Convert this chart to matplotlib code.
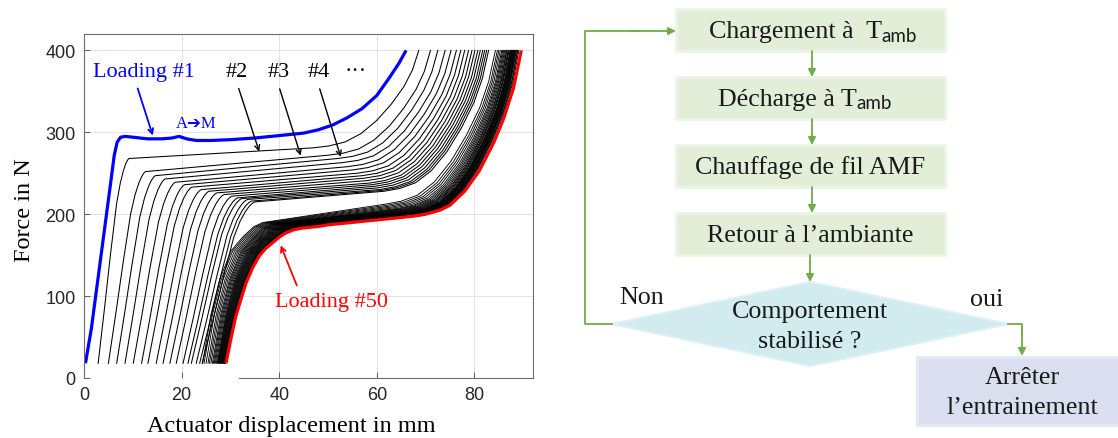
import numpy as np
import matplotlib
matplotlib.use('Agg')
import matplotlib.pyplot as plt
from matplotlib.patches import Rectangle, Polygon, FancyArrowPatch

# ---------------- data ----------------
# Loading #1 (blue)
blue_x = [0.3, 1.5, 2.5, 3.5, 4.5, 5.5, 6.2, 6.8, 7.5, 8.5, 10, 13, 16, 18, 19.5, 21, 23, 26, 30,
          35, 40, 45, 48, 51, 54, 57, 60, 62.5, 64.5, 66]
blue_f = [18, 60, 105, 150, 195, 240, 272, 288, 294, 295, 294, 292, 292, 293, 295, 292, 290, 290, 291,
          293, 296, 299, 303, 309, 318, 329, 345, 366, 384, 400]
# Loading #50 (red)
red_x = [29.1, 30.1, 31.1, 32.2, 33.2, 34.5, 35.9, 37.2, 38.6, 40, 41.3, 43, 44.7, 48, 50, 55, 60, 65, 68,
         70, 73, 75, 78, 81, 84, 86, 88, 89.6]
red_f = [18, 48, 75, 97, 116, 134, 149, 158, 165, 172, 177, 181, 183, 185, 187, 190, 193, 196, 198,
         200, 205, 211, 228, 253, 288, 317, 354, 400]

# Loadings #2..#18 (upper plateau family)
up_start = [2.9, 5.0, 6.7, 8.4, 10.1, 11.8, 13.1, 14.8, 16.2, 17.6, 18.9, 20.3, 21.3, 22.0, 23.0, 23.7, 24.2]
up_knee_x = [9.2, 12.6, 14.6, 16.6, 18.7, 20.6, 22.1, 24.0, 25.6, 27.2, 28.7, 30.3, 31.5, 32.3, 33.5, 34.3, 35.0]
up_knee_f = [268, 252, 247, 243, 239, 236, 233, 230, 228, 226, 224, 222, 220, 219, 218, 216, 215]
up_bend_x = [47, 50, 52, 53, 54, 55, 56, 57, 57.5, 58, 58.5, 59, 59.5, 60, 60.5, 61, 61.5]
up_bend_f = [281, 272, 268, 263, 258, 254, 250, 247, 244, 241, 238, 236, 234, 232, 230, 229, 228]
up_end = [68.6, 71.0, 72.5, 74.0, 75.2, 76.3, 77.2, 78.0, 78.8, 79.5, 80.1, 80.7, 81.2, 81.7, 82.1, 82.5, 82.9]

# Loadings #19..#49 (lower plateau family)
lo_start = [24.3, 24.6, 25.0, 25.4, 25.7, 26.0, 26.3, 26.5, 26.7, 26.9, 27.1, 27.3, 27.4, 27.5, 27.6, 27.7,
            27.8, 27.9, 28.0, 28.1, 28.2, 28.3, 28.4, 28.5, 28.6, 28.7, 28.75, 28.8, 28.85, 28.9, 29.0]
lo_knee_x = [38.0, 38.3, 38.6, 38.9, 39.2, 39.5, 39.8, 40.0, 40.3, 40.5, 40.8, 41.0, 41.3, 41.5, 41.8, 42.0,
             42.2, 42.4, 42.6, 42.8, 43.0, 43.2, 43.4, 43.6, 43.8, 44.0, 44.1, 44.2, 44.3, 44.4, 44.5]
lo_knee_f = [191, 190.6, 190.2, 189.8, 189.4, 189, 188.8, 188.6, 188.4, 188.2, 188, 187.8, 187.6, 187.4, 187.2,
             187, 186.8, 186.6, 186.4, 186.2, 186, 185.8, 185.6, 185.4, 185.2, 185, 184.8, 184.6, 184.4,
             184.2, 184]
lo_bend_x = [61.5, 62.2, 62.8, 63.3, 63.8, 64.2, 64.6, 65.0, 65.3, 65.6, 65.8, 66.0, 66.2, 66.4, 66.6, 66.7,
             66.8, 66.9, 67.0, 67.1, 67.2, 67.3, 67.4, 67.5, 67.6, 67.7, 67.8, 67.9, 68.0, 68.1, 68.2]
lo_bend_f = [212, 211, 210, 209, 208, 207, 206.5, 206, 205.5, 205, 204.5, 204, 203.5, 203, 202.5, 202.5,
             202, 202, 201.5, 201.5, 201, 201, 200.5, 200.5, 200, 200, 200, 199.5, 199.5, 199, 199]
lo_end = [84.3, 84.7, 85.0, 85.3, 85.6, 85.8, 86.0, 86.2, 86.4, 86.6, 86.7, 86.9, 87.0, 87.1, 87.3, 87.4,
          87.5, 87.6, 87.7, 87.8, 87.9, 88.0, 88.1, 88.2, 88.3, 88.4, 88.5, 88.6, 88.8, 88.9, 89.1]

# curve shapes (fractions)
rise_u_upper = [0, .2, .4, .6, .72, .82, .9, .96, 1]
rise_v_upper = [0, .26, .53, .78, .88, .94, .975, .993, 1]
rise_u_lower = [0, .126, .258, .428, .6, .767, .9, 1]
rise_v_lower = [0, .345, .594, .794, .891, .964, .993, 1]
turn_u = [0, .15, .3, .45, .6, .74, .86, .94, 1]
turn_v = [0, .02, .06, .145, .28, .45, .63, .8, 1]
F_START, F_END = 18, 400

x_ticks = [0, 20, 40, 60, 80]
y_ticks = [0, 100, 200, 300, 400]

flow_steps = ['Chargement à  T', 'Décharge à T', 'Chauffage de fil AMF', "Retour à l’ambiante"]
flow_sub = ['amb', 'amb', '', '']

# ---------------- figure ----------------
W, H = 1118, 439
fig = plt.figure(figsize=(W / 100, H / 100), dpi=100)
SERIF = 'Liberation Serif'
FS = 18.7

# flowchart layer in pixel coordinates
fa = fig.add_axes([0, 0, 1, 1])
fa.set_xlim(0, W)
fa.set_ylim(H, 0)
fa.axis('off')

green = '#70AD47'
tcol = '#1a1a1a'
box_l, box_r, box_h = 676, 945, 42
box_tops = [10, 78, 146, 214]
cx = (box_l + box_r) / 2
for i, top in enumerate(box_tops):
    fa.add_patch(Rectangle((box_l, top), box_r - box_l, box_h, facecolor='#E2EED8',
                           edgecolor='#ECF4E6', lw=2.0))
    cy = top + box_h / 2
    if flow_sub[i]:
        tx_end = [882, 857][i]
        fa.text(tx_end, cy + 1, flow_steps[i], ha='right', va='center', fontsize=FS,
                family=SERIF, color=tcol)
        fa.text(tx_end - 0.5, cy + 5, flow_sub[i], ha='left', va='center', fontsize=13.5,
                family=['Lato', 'DejaVu Sans'], color=tcol)
    else:
        fa.text(cx, cy + 1, flow_steps[i], ha='center', va='center', fontsize=FS,
                family=SERIF, color=tcol)


def arrow(p0, p1):
    fa.add_patch(FancyArrowPatch(p0, p1, arrowstyle='-|>', mutation_scale=11,
                                 color=green, lw=1.3, shrinkA=0, shrinkB=0))


for top in box_tops[:-1]:
    arrow((812, top + box_h), (812, top + 68))
arrow((810, box_tops[-1] + box_h), (810, 283))

# decision diamond
dl, dr, dt, db, dcx, dcy = 611.7, 1008.3, 283, 367, 810, 325
fa.add_patch(Polygon([(dl, dcy), (dcx, dt), (dr, dcy), (dcx, db)], closed=True,
                     facecolor='#D2EBEF', edgecolor='#DDF0F3', lw=1.5))
fa.text(810, 312, 'Comportement', ha='center', va='center', fontsize=FS, family=SERIF, color=tcol)
fa.text(810, 342, 'stabilisé ?', ha='center', va='center', fontsize=FS, family=SERIF, color=tcol)

# loop back (Non)
fa.plot([dl, 585.3, 585.3, 640], [dcy, dcy, 32, 32], color=green, lw=1.3)
arrow((630, 32), (676, 32))
fa.text(641.7, 298, 'Non', ha='center', va='center', fontsize=FS, family=SERIF, color=tcol)

# exit (oui)
fa.plot([dr, 1022, 1022], [dcy, dcy, 335], color=green, lw=1.3)
arrow((1022, 330), (1022, 357))
fa.text(986.7, 300, 'oui', ha='center', va='center', fontsize=FS, family=SERIF, color=tcol)

fa.add_patch(Rectangle((917, 357.5), 220, 68.5, facecolor='#D9DFEF', edgecolor='#E4E8F4', lw=2.0))
fa.text(1022, 378, 'Arrêter', ha='center', va='center', fontsize=FS, family=SERIF, color=tcol)
fa.text(1022, 408, 'l’entrainement', ha='center', va='center', fontsize=FS, family=SERIF, color=tcol)

# ---------------- force-displacement plot ----------------
ax = fig.add_axes([84 / W, (H - 379) / H, (533 - 84) / W, (379 - 35) / H])
ax.set_xlim(0, 92)
ax.set_ylim(0, 420)


def curve(x0, xk, fk, xb, fb, xe, ru, rv):
    xr = x0 + np.asarray(ru) * (xk - x0)
    fr = F_START + np.asarray(rv) * (fk - F_START)
    xu = xb + np.asarray(turn_u) * (xe - xb)
    fu = fb + np.asarray(turn_v) * (F_END - fb)
    return np.concatenate([xr, xu]), np.concatenate([fr, fu])


for k in range(len(up_start)):
    xx, ff = curve(up_start[k], up_knee_x[k], up_knee_f[k], up_bend_x[k], up_bend_f[k], up_end[k],
                   rise_u_upper, rise_v_upper)
    ax.plot(xx, ff, color='black', lw=0.75)
for k in range(len(lo_start)):
    xx, ff = curve(lo_start[k], lo_knee_x[k], lo_knee_f[k], lo_bend_x[k], lo_bend_f[k], lo_end[k],
                   rise_u_lower, rise_v_lower)
    ax.plot(xx, ff, color='black', lw=0.65)

ax.plot(red_x, red_f, color='#FF0000', lw=2.3, solid_capstyle='butt')
ax.plot(blue_x, blue_f, color='#0000FF', lw=2.3, solid_capstyle='butt')

ax.set_xticks(x_ticks)
ax.set_yticks(y_ticks)
ax.grid(True, color='#E3E3E3', lw=0.7)
ax.set_axisbelow(True)
for s in ax.spines.values():
    s.set_color('#6b6b6b')
    s.set_linewidth(0.8)
ax.spines['bottom'].set_bounds(31.7, 92)
ax.tick_params(direction='in', length=4, width=0.6, color='#444444', labelsize=13,
               labelcolor='#262626', pad=6, top=False, right=False)
for lab in ax.get_xticklabels() + ax.get_yticklabels():
    lab.set_family('Liberation Sans')

fig.text(25 / W, 1 - 210 / H, 'Force in N', rotation=90, ha='center', va='center',
         fontsize=17.5, family=SERIF)
fig.text(291 / W, 1 - 427 / H, 'Actuator displacement in mm', ha='center', va='center',
         fontsize=17.5, family=SERIF)

# annotations
ax.text(12.2, 374, 'Loading #1', color='#0000FF', fontsize=16, family=SERIF, ha='center', va='center')
ax.text(31.3, 374, '#2', fontsize=16, family=SERIF, ha='center', va='center')
ax.text(39.8, 374, '#3', fontsize=16, family=SERIF, ha='center', va='center')
ax.text(48.0, 374, '#4', fontsize=16, family=SERIF, ha='center', va='center')
ax.text(55.7, 374, '···', fontsize=16, family=SERIF, ha='center', va='center')
ax.text(23, 311, 'A➔M', color='#0000FF', fontsize=12, family=['Liberation Serif', 'DejaVu Sans'],
        ha='center', va='center')
ax.text(50.7, 93, 'Loading #50', color='#FF0000', fontsize=16, family=SERIF, ha='center', va='center')

aprops = dict(arrowstyle='->', lw=1.0, shrinkA=0, shrinkB=0, mutation_scale=9)
ax.annotate('', xy=(14.1, 296), xytext=(11, 353.5), arrowprops=dict(color='#0000FF', **dict(aprops, lw=1.3)))
ax.annotate('', xy=(35.9, 276.5), xytext=(31.7, 353.5), arrowprops=dict(color='black', **aprops))
ax.annotate('', xy=(44.4, 271.5), xytext=(40.1, 353), arrowprops=dict(color='black', **aprops))
ax.annotate('', xy=(52.6, 270), xytext=(48.3, 353), arrowprops=dict(color='black', **aprops))
ax.annotate('', xy=(40.3, 162), xytext=(43.6, 113), arrowprops=dict(color='#FF0000', **dict(aprops, lw=1.3)))

fig.savefig('out.png', dpi=100)
